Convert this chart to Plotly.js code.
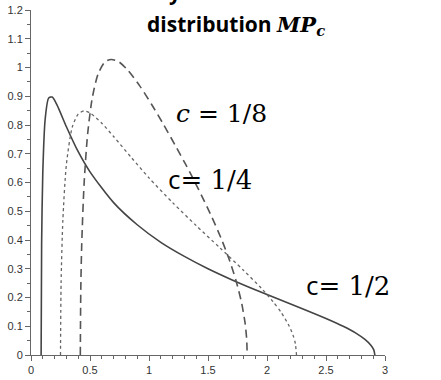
<!DOCTYPE html>
<html>
<head>
<meta charset="utf-8">
<script src="https://cdn.plot.ly/plotly-3.0.1.min.js"></script>
<style>html,body{margin:0;padding:0;background:#fff;}#chart{width:441px;height:380px;}</style>
</head>
<body>
<div id="chart"></div>
<script>
// Marchenko-Pastur densities, values
const xHalf = [0.0858, 0.09, 0.10, 0.12, 0.15, 0.18, 0.22, 0.30, 0.40, 0.50, 0.70, 0.90, 1.10, 1.30, 1.50, 1.70, 1.90, 2.10, 2.30, 2.50, 2.65, 2.75, 2.83, 2.88, 2.905, 2.914];
const yHalf = [0, 0.385, 0.636, 0.820, 0.894, 0.897, 0.870, 0.794, 0.707, 0.637, 0.530, 0.453, 0.392, 0.343, 0.300, 0.262, 0.227, 0.194, 0.161, 0.127, 0.099, 0.077, 0.054, 0.034, 0.018, 0];

const xQuarter = [0.25, 0.255, 0.27, 0.30, 0.35, 0.40, 0.45, 0.50, 0.60, 0.70, 0.85, 1.00, 1.20, 1.40, 1.60, 1.80, 1.95, 2.05, 2.12, 2.18, 2.22, 2.24, 2.25];
const yQuarter = [0, 0.249, 0.469, 0.663, 0.793, 0.838, 0.849, 0.842, 0.806, 0.760, 0.687, 0.616, 0.530, 0.450, 0.373, 0.295, 0.233, 0.186, 0.148, 0.107, 0.070, 0.040, 0];

const xEighth = [0.418, 0.422, 0.43, 0.45, 0.48, 0.52, 0.57, 0.63, 0.68, 0.74, 0.82, 0.92, 1.02, 1.12, 1.22, 1.32, 1.42, 1.52, 1.61, 1.68, 1.74, 1.785, 1.815, 1.828, 1.832];
const yEighth = [0, 0.230, 0.386, 0.596, 0.769, 0.896, 0.979, 1.021, 1.028, 1.021, 0.991, 0.937, 0.873, 0.804, 0.731, 0.656, 0.576, 0.491, 0.407, 0.332, 0.255, 0.181, 0.109, 0.053, 0];

const labels = ["<i>c</i> = 1/8", "<span style='font-family:Open Sans'>c</span>= 1/4", "<span style='font-family:Open Sans'>c</span>= 1/2"];
const titleText = "<b>distribution <span style='font-family:DejaVu Serif'><i>MP</i><sub><i>c</i></sub></span></b>";
const cutTitleText = "<b>y</b>";

const traces = [
  {x: xHalf, y: yHalf, mode: 'lines', line: {color: '#444', width: 1.6, shape: 'spline', smoothing: 0.7}, hoverinfo: 'skip'},
  {x: xQuarter, y: yQuarter, mode: 'lines', line: {color: '#666', width: 1.3, dash: 'dot', shape: 'spline', smoothing: 0.7}, hoverinfo: 'skip'},
  {x: xEighth, y: yEighth, mode: 'lines', line: {color: '#555', width: 1.6, dash: '8px,5px', shape: 'spline', smoothing: 0.7}, hoverinfo: 'skip'}
];

const tickFont = {family: 'Liberation Sans Narrow, Liberation Sans, Arial', size: 11, color: '#333'};
const layout = {
  width: 441, height: 380,
  margin: {l: 31, r: 56, t: 10, b: 25},
  paper_bgcolor: '#fff', plot_bgcolor: '#fff',
  showlegend: false,
  xaxis: {range: [0, 3], dtick: 0.5, tick0: 0, ticks: 'outside', ticklen: 5, tickcolor: '#666', tickwidth: 1,
    showline: true, linecolor: '#666', linewidth: 1, showgrid: false, zeroline: false, tickfont: tickFont,
    minor: {dtick: 0.1, ticks: 'outside', ticklen: 3, tickcolor: '#666', showgrid: false}},
  yaxis: {range: [0, 1.2], dtick: 0.1, tick0: 0, ticks: 'outside', ticklen: 5, tickcolor: '#666', tickwidth: 1,
    showline: true, linecolor: '#666', linewidth: 1, showgrid: false, zeroline: false, tickfont: tickFont,
    minor: {dtick: 0.05, ticks: 'outside', ticklen: 3, tickcolor: '#666', showgrid: false}},
  annotations: [
    {xref: 'paper', yref: 'paper', x: 0.408, y: 1.006, xanchor: 'center', yanchor: 'bottom', showarrow: false,
      text: cutTitleText, font: {family: 'Open Sans', size: 21, color: '#000'}},
    {xref: 'paper', yref: 'paper', x: 0.579, y: 0.958, xanchor: 'center', yanchor: 'middle', showarrow: false,
      text: titleText, font: {family: 'Open Sans', size: 21, color: '#000'}},
    {xref: 'paper', yref: 'paper', x: 0.405, y: 0.70, xanchor: 'left', yanchor: 'middle', showarrow: false,
      text: labels[0], font: {family: 'DejaVu Serif', size: 25, color: '#000'}},
    {xref: 'paper', yref: 'paper', x: 0.382, y: 0.51, xanchor: 'left', yanchor: 'middle', showarrow: false,
      text: labels[1], font: {family: 'DejaVu Serif', size: 26, color: '#000'}},
    {xref: 'paper', yref: 'paper', x: 0.772, y: 0.203, xanchor: 'left', yanchor: 'middle', showarrow: false,
      text: labels[2], font: {family: 'DejaVu Serif', size: 26, color: '#000'}}
  ]
};
Plotly.newPlot('chart', traces, layout, {staticPlot: true, displayModeBar: false});
</script>
</body>
</html>
